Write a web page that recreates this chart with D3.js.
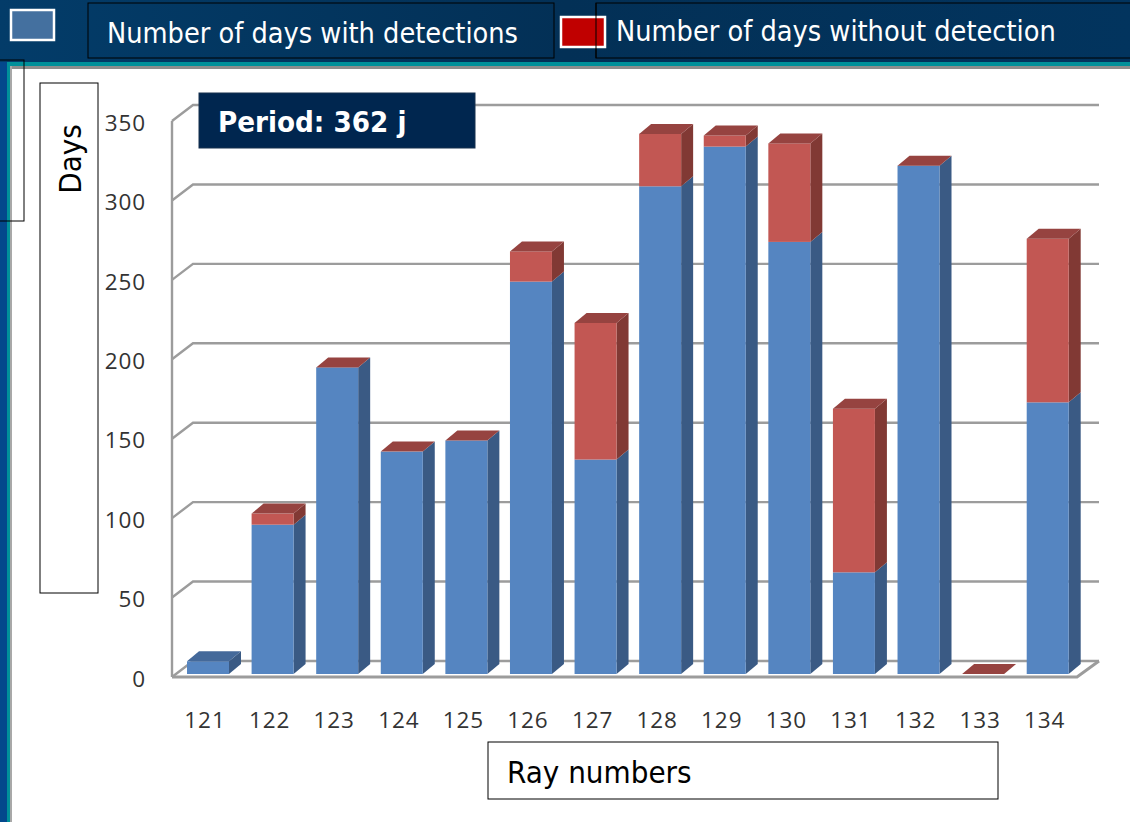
<!DOCTYPE html>
<html>
<head>
<meta charset="utf-8">
<script src="https://cdn.jsdelivr.net/npm/d3@7"></script>
<style>
  html, body { margin: 0; padding: 0; background: #fff; }
  svg { display: block; }
  .tick text { font-family: "Open Sans", sans-serif; font-size: 22.5px; fill: #333; letter-spacing: 0.9px; }
  .label { font-family: "DejaVu Sans Condensed", "DejaVu Sans", sans-serif; font-size: 28.6px; }
  .title { font-family: "DejaVu Sans Condensed", "DejaVu Sans", sans-serif; font-size: 31px; }
</style>
</head>
<body>
<svg id="chart" width="1130" height="822"></svg>
<script>
const categories = ["121","122","123","124","125","126","127","128","129","130","131","132","133","134"];
const withDetections = [8, 94, 193, 140, 147, 247, 135, 307, 332, 272, 64, 320, 0, 171];
// null = no red segment at all, 0 = only the red cap shows
const withoutDetection = [null, 7, 0, 0, 0, 19, 86, 33, 7, 62, 103, 0, 0, 103];
const yTicks = [0, 50, 100, 150, 200, 250, 300, 350];
const seriesKeys = ["with", "without"];
const legendLabels = ["Number of days with detections", "Number of days without detection"];

const colors = {
  with:    { front: "#5585c1", side: "#3a5a84", top: "#44699a" },
  without: { front: "#c25753", side: "#813934", top: "#964340" }
};

const svg = d3.select("#chart");
const W = 1130, H = 822;

// page frame
const defs = svg.append("defs");
const grad = defs.append("linearGradient").attr("id", "header").attr("x1", 0).attr("x2", 1);
grad.append("stop").attr("offset", 0).attr("stop-color", "#033c69");
grad.append("stop").attr("offset", 0.5).attr("stop-color", "#033056");
grad.append("stop").attr("offset", 1).attr("stop-color", "#02345e");

svg.append("rect").attr("width", W).attr("height", H).attr("fill", "#fff");
svg.append("rect").attr("width", W).attr("height", 62).attr("fill", "url(#header)");
svg.append("rect").attr("y", 62).attr("width", W).attr("height", 4).attr("fill", "#00909a");
svg.append("rect").attr("x", 8).attr("y", 66).attr("width", W - 8).attr("height", 3).attr("fill", "#8d8d8d");
svg.append("rect").attr("y", 62).attr("width", 7).attr("height", H - 62).attr("fill", "#03488c");
svg.append("rect").attr("x", 7).attr("y", 62).attr("width", 3).attr("height", H - 62).attr("fill", "#00909a");
svg.append("rect").attr("x", 10).attr("y", 66).attr("width", 2).attr("height", H - 66).attr("fill", "#a8a8a8");

// scales
const x = d3.scaleBand().domain(categories).range([175.7, 1080]).paddingInner(0.35).paddingOuter(0.175);
const yFront = d3.scaleLinear().domain([0, 350]).range([677, 121]);
const yBack = d3.scaleLinear().domain([0, 350]).range([661, 105]);
const yBar = d3.scaleLinear().domain([0, 350]).range([674, 118]);

const wall = { left: 172, right: 1077, backLeft: 193, backRight: 1099 };
const gridColor = "#9c9c9c";

// walls and gridlines
const grid = svg.append("g").attr("fill", "none").attr("stroke", gridColor).attr("stroke-width", 2.4);
grid.selectAll(".grid").data(yTicks).enter().append("path")
    .attr("class", "grid")
    .attr("d", d => `M${wall.left},${yFront(d)}L${wall.backLeft},${yBack(d)}L${wall.backRight},${yBack(d)}`);
grid.append("line")
    .attr("x1", wall.left).attr("x2", wall.left)
    .attr("y1", yFront(0)).attr("y2", yFront(350));
grid.append("path")
    .attr("stroke-width", 3)
    .attr("d", `M${wall.left},${yFront(0)}L${wall.right},${yFront(0)}L${wall.backRight},${yBack(0)}`);

// stacked bars
const rows = categories.map((c, i) => ({ cat: c, with: withDetections[i], without: withoutDetection[i] || 0, hasRed: withoutDetection[i] !== null }));
const stacked = d3.stack().keys(seriesKeys)(rows);
const dx = 12, dy = -10;

const bars = svg.append("g").selectAll("g").data(rows).enter().append("g");
bars.each(function(row, i) {
  const g = d3.select(this);
  const x0 = x(row.cat), x1 = x0 + x.bandwidth();
  seriesKeys.forEach((key, k) => {
    const [v0, v1] = stacked[k][i];
    if (v1 - v0 <= 0) return;
    const y0 = yBar(v0), y1 = yBar(v1);
    g.append("polygon").attr("fill", colors[key].side)
      .attr("points", [[x1, y0], [x1 + dx, y0 + dy], [x1 + dx, y1 + dy], [x1, y1]].join(" "));
    g.append("rect").attr("fill", colors[key].front)
      .attr("x", x0).attr("y", y1).attr("width", x.bandwidth()).attr("height", y0 - y1);
  });
  const total = row.with + row.without;
  const capKey = row.hasRed ? "without" : "with";
  const yt = yBar(total);
  g.append("polygon").attr("fill", colors[capKey].top)
    .attr("points", [[x0, yt], [x0 + dx, yt + dy], [x1 + dx, yt + dy], [x1, yt]].join(" "));
});

// axes
svg.append("g")
    .attr("transform", "translate(149,2)")
    .call(d3.axisLeft(yFront).tickValues(yTicks).tickSize(0))
    .call(g => g.select(".domain").remove());

svg.append("g")
    .attr("transform", "translate(-3,710)")
    .call(d3.axisBottom(x).tickSize(0))
    .call(g => g.select(".domain").remove())
    .call(g => g.selectAll("text").attr("dy", "0.71em").attr("y", 2));

// boxes round the labels
const boxes = [
  [88, 3, 466, 55], [596, 3, 540, 55], [-1, 60, 25, 161],
  [40, 83, 58, 510], [488, 742, 510, 57]
];
svg.append("g").selectAll("rect").data(boxes).enter().append("rect")
    .attr("x", d => d[0]).attr("y", d => d[1]).attr("width", d => d[2]).attr("height", d => d[3])
    .attr("fill", "none").attr("stroke", "#000").attr("stroke-width", 1);

// legend
svg.append("rect").attr("x", 11).attr("y", 10).attr("width", 43).attr("height", 30)
    .attr("fill", "#44709f").attr("stroke", "#fff").attr("stroke-width", 2.5);
svg.append("rect").attr("x", 561).attr("y", 17).attr("width", 44).attr("height", 30)
    .attr("fill", "#c00000").attr("stroke", "#fff").attr("stroke-width", 2.5);
svg.append("line").attr("x1", 596).attr("x2", 596).attr("y1", 3).attr("y2", 58).attr("stroke", "#000");

svg.append("text").attr("class", "label").attr("x", 107).attr("y", 43).attr("fill", "#fff")
    .text(legendLabels[0]);
svg.append("text").attr("class", "label").attr("x", 616).attr("y", 41).attr("fill", "#fff")
    .text(legendLabels[1]);

// axis titles
svg.append("text").attr("class", "title").attr("transform", "translate(81,159) rotate(-90)")
    .attr("text-anchor", "middle").attr("fill", "#000").text("Days");
svg.append("text").attr("class", "title").attr("x", 507).attr("y", 783).attr("fill", "#000")
    .text("Ray numbers");

// period tag
svg.append("rect").attr("x", 199).attr("y", 93).attr("width", 276).attr("height", 55)
    .attr("fill", "#00264f").attr("stroke", "#16304f");
svg.append("text").attr("class", "label").attr("x", 218).attr("y", 132).attr("fill", "#fff")
    .attr("font-weight", "bold").style("font-size", "29.2px").text("Period: 362 j");
</script>
</body>
</html>
